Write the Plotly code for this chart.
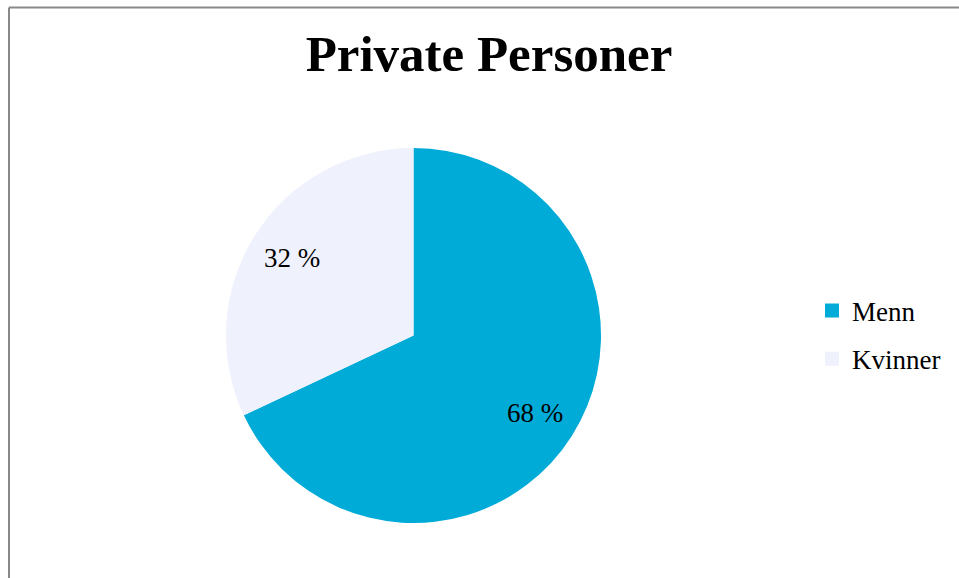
import math
import plotly.graph_objects as go

W, H = 959, 578

title_text = "Private Personer"
categories = ["Menn", "Kvinner"]
values = [68, 32]
colors = ["#00ABD8", "#EFF1FC"]

def px_x(v):
    return v / W

def px_y(v):
    return 1 - v / H

# pie geometry (pixels)
CX, CY, R = 413.5, 335.5, 187.5
LABEL_FRAC = 0.77

fig = go.Figure()

fig.add_trace(go.Pie(
    labels=categories,
    values=values,
    sort=False,
    direction="clockwise",
    rotation=0,
    marker=dict(colors=colors, line=dict(width=0)),
    textinfo="none",
    showlegend=False,
    hoverinfo="label+percent",
    domain=dict(x=[px_x(CX - R), px_x(CX + R)], y=[px_y(CY + R), px_y(CY - R)]),
))

for cat, col in zip(categories, colors):
    fig.add_trace(go.Scatter(
        x=[None], y=[None], mode="markers", name=cat, legendgroup=cat,
        marker=dict(symbol="square", size=14, color=col, line=dict(width=0)),
        hoverinfo="skip",
    ))

# data labels positioned at the middle angle of each slice
total = sum(values)
annotations = []
cum = 0
for v in values:
    mid = (cum + v / 2) / total * 2 * math.pi  # clockwise from top
    cum += v
    lx = CX + LABEL_FRAC * R * math.sin(mid)
    ly = CY - LABEL_FRAC * R * math.cos(mid)
    annotations.append(dict(
        x=px_x(lx), y=px_y(ly), xref="paper", yref="paper",
        text=f"{round(v / total * 100)} %", showarrow=False,
        xanchor="center", yanchor="middle",
        font=dict(family="Liberation Serif", size=27, color="#000000"),
    ))

fig.update_layout(
    width=W, height=H,
    margin=dict(l=0, r=0, t=0, b=0),
    paper_bgcolor="white", plot_bgcolor="white",
    xaxis=dict(visible=False), yaxis=dict(visible=False),
    title=dict(
        text="<b>" + title_text + "</b>",
        x=px_x(489), xanchor="center",
        y=px_y(53), yanchor="middle",
        font=dict(family="Liberation Serif", size=51, color="#000000"),
    ),
    legend=dict(
        x=px_x(812), xanchor="left",
        y=px_y(335), yanchor="middle",
        font=dict(family="Liberation Serif", size=27, color="#000000"),
        traceorder="grouped",
        tracegroupgap=10,
        bgcolor="rgba(0,0,0,0)",
        itemclick=False, itemdoubleclick=False,
    ),
    annotations=annotations,
    shapes=[
        dict(type="line", xref="paper", yref="paper",
             x0=px_x(9), x1=1.0, y0=px_y(7.5), y1=px_y(7.5),
             line=dict(color="#888888", width=2), layer="above"),
        dict(type="line", xref="paper", yref="paper",
             x0=px_x(9), x1=px_x(9), y0=0.0, y1=px_y(7.5),
             line=dict(color="#888888", width=2), layer="above"),
    ],
)

fig.write_html("out.html", config={"displayModeBar": False},
               post_script="document.body.style.margin='0px';")
